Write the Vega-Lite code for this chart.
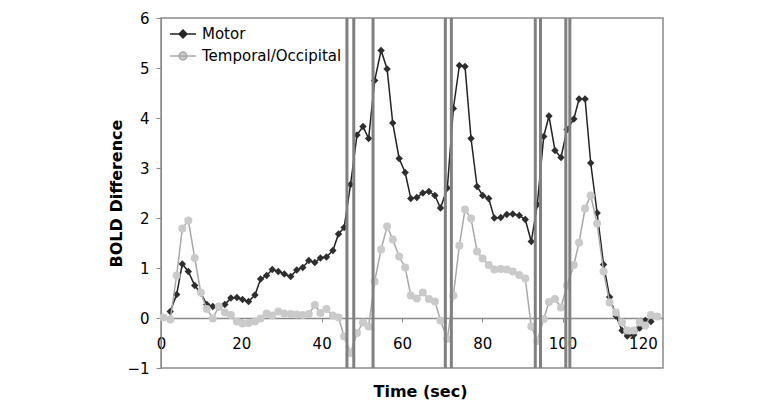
{
  "$schema": "https://vega.github.io/schema/vega-lite/v6.json",
  "width": 502,
  "height": 350,
  "autosize": "none",
  "padding": {"left": 161, "top": 18, "right": 115, "bottom": 45},
  "background": "white",
  "config": {
    "font": "DejaVu Sans",
    "view": {"stroke": "#8a8a8a", "strokeWidth": 1.5}
  },
  "datasets": {
    "motor": [
      {"t": 2.3, "v": 0.13}, {"t": 3.9, "v": 0.47}, {"t": 5.3, "v": 1.08}, {"t": 6.8, "v": 0.93},
      {"t": 8.4, "v": 0.65}, {"t": 9.9, "v": 0.5}, {"t": 11.4, "v": 0.27}, {"t": 12.9, "v": 0.23},
      {"t": 14.4, "v": 0.22}, {"t": 15.9, "v": 0.27}, {"t": 17.4, "v": 0.4}, {"t": 18.9, "v": 0.41},
      {"t": 20.3, "v": 0.37}, {"t": 21.8, "v": 0.33}, {"t": 23.4, "v": 0.46}, {"t": 24.8, "v": 0.78},
      {"t": 26.3, "v": 0.85}, {"t": 27.7, "v": 0.97}, {"t": 29.2, "v": 0.93}, {"t": 30.7, "v": 0.88},
      {"t": 32.3, "v": 0.83}, {"t": 33.8, "v": 0.96}, {"t": 35.3, "v": 1.01}, {"t": 36.8, "v": 1.15},
      {"t": 38.3, "v": 1.11}, {"t": 39.7, "v": 1.2}, {"t": 41.2, "v": 1.22}, {"t": 42.8, "v": 1.35},
      {"t": 44.2, "v": 1.68}, {"t": 45.6, "v": 1.81}, {"t": 47.2, "v": 2.67}, {"t": 48.8, "v": 3.66},
      {"t": 50.3, "v": 3.83}, {"t": 51.7, "v": 3.59}, {"t": 53.2, "v": 4.75}, {"t": 54.8, "v": 5.35},
      {"t": 56.3, "v": 4.98}, {"t": 57.7, "v": 3.9}, {"t": 59.3, "v": 3.19}, {"t": 60.8, "v": 2.91},
      {"t": 62.2, "v": 2.39}, {"t": 63.7, "v": 2.41}, {"t": 65.2, "v": 2.5}, {"t": 66.7, "v": 2.53},
      {"t": 68.2, "v": 2.45}, {"t": 69.6, "v": 2.2}, {"t": 71.3, "v": 2.6}, {"t": 72.8, "v": 4.19},
      {"t": 74.3, "v": 5.05}, {"t": 75.7, "v": 5.03}, {"t": 77.2, "v": 3.59}, {"t": 78.7, "v": 2.63},
      {"t": 80.1, "v": 2.45}, {"t": 81.6, "v": 2.39}, {"t": 83.0, "v": 2.0}, {"t": 84.6, "v": 2.01},
      {"t": 86.1, "v": 2.07}, {"t": 87.6, "v": 2.08}, {"t": 89.2, "v": 2.05}, {"t": 90.7, "v": 1.97},
      {"t": 92.2, "v": 1.53}, {"t": 93.7, "v": 2.27}, {"t": 95.3, "v": 3.63}, {"t": 96.6, "v": 4.04},
      {"t": 98.1, "v": 3.35}, {"t": 99.6, "v": 3.21}, {"t": 101.1, "v": 3.77}, {"t": 102.8, "v": 3.98},
      {"t": 104.1, "v": 4.38}, {"t": 105.6, "v": 4.38}, {"t": 107.0, "v": 3.1}, {"t": 108.6, "v": 2.1},
      {"t": 110.2, "v": 1.07}, {"t": 111.7, "v": 0.42}, {"t": 113.3, "v": 0.04}, {"t": 114.8, "v": -0.25},
      {"t": 116.1, "v": -0.36}, {"t": 117.7, "v": -0.34}, {"t": 119.2, "v": -0.2}, {"t": 120.6, "v": -0.05},
      {"t": 122.0, "v": -0.07}
    ],
    "temporal": [
      {"t": 0.6, "v": 0.01}, {"t": 2.3, "v": -0.03}, {"t": 3.9, "v": 0.85}, {"t": 5.3, "v": 1.79},
      {"t": 6.8, "v": 1.95}, {"t": 8.4, "v": 1.2}, {"t": 9.9, "v": 0.51}, {"t": 11.4, "v": 0.18},
      {"t": 12.9, "v": -0.01}, {"t": 14.4, "v": 0.23}, {"t": 15.9, "v": 0.11}, {"t": 17.4, "v": 0.06},
      {"t": 18.9, "v": -0.07}, {"t": 20.3, "v": -0.11}, {"t": 21.8, "v": -0.1}, {"t": 23.4, "v": -0.07},
      {"t": 24.8, "v": -0.01}, {"t": 26.3, "v": 0.09}, {"t": 27.7, "v": 0.05}, {"t": 29.2, "v": 0.13},
      {"t": 30.7, "v": 0.09}, {"t": 32.3, "v": 0.08}, {"t": 33.8, "v": 0.07}, {"t": 35.3, "v": 0.06},
      {"t": 36.8, "v": 0.08}, {"t": 38.3, "v": 0.26}, {"t": 39.7, "v": 0.1}, {"t": 41.2, "v": 0.18},
      {"t": 42.8, "v": 0.05}, {"t": 44.2, "v": 0.01}, {"t": 45.6, "v": -0.37}, {"t": 47.2, "v": -0.7},
      {"t": 48.8, "v": -0.3}, {"t": 50.3, "v": -0.09}, {"t": 51.7, "v": -0.17}, {"t": 53.2, "v": 0.73},
      {"t": 54.8, "v": 1.37}, {"t": 56.3, "v": 1.83}, {"t": 57.7, "v": 1.57}, {"t": 59.3, "v": 1.23},
      {"t": 60.8, "v": 1.01}, {"t": 62.2, "v": 0.45}, {"t": 63.7, "v": 0.39}, {"t": 65.2, "v": 0.51},
      {"t": 66.7, "v": 0.38}, {"t": 68.2, "v": 0.33}, {"t": 69.6, "v": -0.05}, {"t": 71.3, "v": -0.42},
      {"t": 72.8, "v": 0.45}, {"t": 74.3, "v": 1.45}, {"t": 75.7, "v": 2.17}, {"t": 77.2, "v": 1.99},
      {"t": 78.7, "v": 1.33}, {"t": 80.1, "v": 1.19}, {"t": 81.6, "v": 1.06}, {"t": 83.0, "v": 0.97},
      {"t": 84.6, "v": 0.98}, {"t": 86.1, "v": 0.97}, {"t": 87.6, "v": 0.93}, {"t": 89.2, "v": 0.86},
      {"t": 90.7, "v": 0.79}, {"t": 92.2, "v": -0.17}, {"t": 93.7, "v": -0.46}, {"t": 95.3, "v": -0.02},
      {"t": 96.6, "v": 0.32}, {"t": 98.1, "v": 0.38}, {"t": 99.6, "v": 0.21}, {"t": 101.1, "v": 0.65},
      {"t": 102.8, "v": 1.06}, {"t": 104.1, "v": 1.51}, {"t": 105.6, "v": 2.19}, {"t": 107.0, "v": 2.45},
      {"t": 108.6, "v": 1.89}, {"t": 110.2, "v": 0.93}, {"t": 111.7, "v": 0.31}, {"t": 113.3, "v": 0.11},
      {"t": 114.8, "v": -0.09}, {"t": 116.1, "v": -0.25}, {"t": 117.7, "v": -0.25}, {"t": 119.2, "v": -0.09},
      {"t": 120.6, "v": -0.15}, {"t": 122.0, "v": 0.06}, {"t": 123.6, "v": 0.03}
    ],
    "events": [
      {"t": 46.3}, {"t": 48.0}, {"t": 52.8}, {"t": 70.8}, {"t": 72.3},
      {"t": 93.2}, {"t": 94.5}, {"t": 100.8}, {"t": 101.8}
    ],
    "legendrows": []
  },
  "layer": [
    {
      "data": {"name": "motor"},
      "mark": {"type": "line", "color": "#222222", "strokeWidth": 1.5},
      "encoding": {
        "x": {"field": "t", "type": "quantitative", "scale": {"domain": [0, 125], "nice": false, "zero": false},
          "axis": {"title": "Time (sec)", "values": [0, 20, 40, 60, 80, 100, 120], "offset": -50,
            "domainColor": "#8a8a8a", "domainWidth": 1.5, "tickColor": "#8a8a8a", "tickSize": 4, "labelPadding": 14,
            "labelFontSize": 15, "labelColor": "#000000", "titleFontSize": 16, "titleFontWeight": "bold",
            "titleColor": "#000000", "titlePadding": 32, "titleX": 259, "grid": false, "labelFlush": false}},
        "y": {"field": "v", "type": "quantitative", "scale": {"domain": [-1, 6], "nice": false},
          "axis": {"title": "BOLD Difference", "values": [-1, 0, 1, 2, 3, 4, 5, 6],
            "domainColor": "#8a8a8a", "tickColor": "#8a8a8a", "tickSize": 5, "labelPadding": 7,
            "labelFontSize": 15, "labelColor": "#000000", "titleFontSize": 16, "titleFontWeight": "bold",
            "titleColor": "#000000", "titlePadding": 2, "grid": false}}
      }
    },
    {
      "data": {"name": "motor"},
      "mark": {"type": "point", "shape": "diamond", "filled": true, "color": "#2e2e2e", "size": 55, "opacity": 1},
      "encoding": {
        "x": {"field": "t", "type": "quantitative"},
        "y": {"field": "v", "type": "quantitative"}
      }
    },
    {
      "data": {"name": "temporal"},
      "mark": {"type": "line", "color": "#a8a8a8", "strokeWidth": 1.5},
      "encoding": {
        "x": {"field": "t", "type": "quantitative"},
        "y": {"field": "v", "type": "quantitative"}
      }
    },
    {
      "data": {"name": "temporal"},
      "mark": {"type": "point", "shape": "circle", "filled": true, "color": "#cacaca", "size": 64, "opacity": 1},
      "encoding": {
        "x": {"field": "t", "type": "quantitative"},
        "y": {"field": "v", "type": "quantitative"}
      }
    },
    {
      "data": {"name": "events"},
      "mark": {"type": "rule", "color": "#808080", "strokeWidth": 3},
      "encoding": {
        "x": {"field": "t", "type": "quantitative"}
      }
    },
    {
      "data": {"name": "legendrows"},
      "mark": {"type": "point", "filled": true, "strokeWidth": 1.5, "opacity": 1},
      "encoding": {
        "fill": {"field": "s", "type": "nominal",
          "scale": {"domain": ["Motor", "Temporal/Occipital"], "range": ["#2e2e2e", "#cacaca"]},
          "legend": {"title": null, "orient": "none", "legendX": 8, "legendY": 2, "symbolSize": 676,
            "symbolStrokeWidth": 1.5, "labelFontSize": 15, "labelFont": "DejaVu Sans", "labelColor": "#000000",
            "labelOffset": 5, "rowPadding": -3, "padding": 0}},
        "stroke": {"field": "s", "type": "nominal",
          "scale": {"domain": ["Motor", "Temporal/Occipital"], "range": ["#222222", "#a8a8a8"]},
          "legend": {"title": null, "orient": "none", "legendX": 8, "legendY": 2, "symbolSize": 676,
            "symbolStrokeWidth": 1.5, "labelFontSize": 15, "labelFont": "DejaVu Sans", "labelColor": "#000000",
            "labelOffset": 5, "rowPadding": -3, "padding": 0}},
        "shape": {"field": "s", "type": "nominal",
          "scale": {"domain": ["Motor", "Temporal/Occipital"],
            "range": ["M-1,0H1M0,-0.3L0.3,0L0,0.3L-0.3,0Z", "M-1,0H1M-0.3,0A0.3,0.3,0,1,0,0.3,0A0.3,0.3,0,1,0,-0.3,0Z"]},
          "legend": {"title": null, "orient": "none", "legendX": 8, "legendY": 2, "symbolSize": 676,
            "symbolStrokeWidth": 1.5, "labelFontSize": 15, "labelFont": "DejaVu Sans", "labelColor": "#000000",
            "labelOffset": 5, "rowPadding": -3, "padding": 0}}
      }
    }
  ]
}
